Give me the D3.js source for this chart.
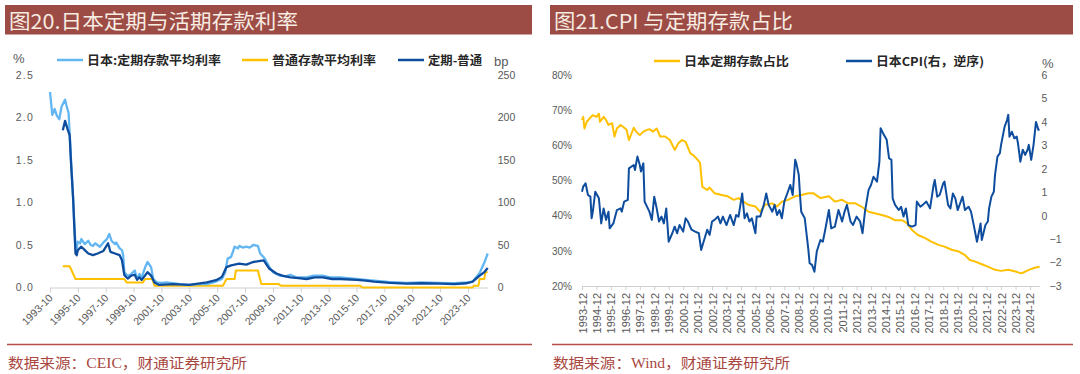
<!DOCTYPE html>
<html>
<head>
<meta charset="utf-8">
<script src="https://cdn.jsdelivr.net/npm/d3@7"></script>
<style>
  html, body { margin: 0; padding: 0; background: #fff; }
  svg { display: block; }
</style>
</head>
<body>
<svg id="chart" width="1080" height="374"></svg>
<script>
const parseM = d3.timeParse("%Y-%m");

// ---- 图20 data (left) ----
const leftTicks = ["1993-10","1995-10","1997-10","1999-10","2001-10","2003-10","2005-10","2007-10",
  "2009-10","2011-10","2013-10","2015-10","2017-10","2019-10","2021-10","2023-10"];
const leftYTicks = [0, 0.5, 1.0, 1.5, 2.0, 2.5];
const bpTicks = [0, 50, 100, 150, 200, 250];

// 日本:定期存款平均利率 (%)
const termRate = [
  ["1993-10",2.30],["1993-12",2.03],["1994-02",2.10],["1994-04",2.02],["1994-06",1.98],["1994-08",2.13],
  ["1994-11",2.21],["1994-12",2.15],["1995-02",2.05],["1995-04",1.54],["1995-06",1.03],["1995-07",0.75],
  ["1995-08",0.50],["1995-09",0.46],["1995-10",0.54],["1995-12",0.52],["1996-01",0.57],["1996-03",0.53],
  ["1996-04",0.51],["1996-07",0.55],["1996-09",0.50],["1996-11",0.49],["1997-01",0.52],["1997-03",0.50],
  ["1997-05",0.48],["1997-08",0.53],["1997-11",0.57],["1998-01",0.63],["1998-03",0.55],["1998-06",0.51],
  ["1998-07",0.53],["1998-10",0.46],["1998-12",0.44],["1999-01",0.38],["1999-02",0.18],["1999-04",0.15],
  ["1999-06",0.14],["1999-08",0.16],["1999-11",0.20],["2000-01",0.10],["2000-03",0.16],["2000-05",0.12],
  ["2000-08",0.24],["2000-10",0.30],["2001-01",0.24],["2001-03",0.10],["2001-06",0.06],["2001-10",0.055],
  ["2002-02",0.06],["2002-08",0.05],["2003-02",0.04],["2003-10",0.03],["2004-06",0.04],["2005-01",0.04],
  ["2005-09",0.07],["2006-02",0.10],["2006-05",0.18],["2006-07",0.34],["2006-10",0.36],["2007-01",0.48],
  ["2007-04",0.46],["2007-05",0.49],["2007-08",0.47],["2007-11",0.48],["2008-02",0.47],["2008-05",0.50],
  ["2008-09",0.49],["2008-11",0.40],["2009-03",0.34],["2009-07",0.24],["2009-10",0.18],["2010-04",0.14],
  ["2010-09",0.13],["2011-01",0.15],["2011-06",0.12],["2012-03",0.12],["2012-09",0.14],["2013-05",0.14],
  ["2013-11",0.12],["2014-08",0.12],["2015-03",0.11],["2015-10",0.10],["2016-06",0.09],["2017-01",0.08],
  ["2018-01",0.065],["2019-05",0.055],["2020-06",0.06],["2021-10",0.055],["2022-10",0.05],["2023-09",0.06],
  ["2024-02",0.07],["2024-08",0.17],["2024-12",0.29],["2025-03",0.40]
];

// 普通存款平均利率 (%)
const ordinaryRate = [
  ["1994-09",0.25],["1995-03",0.25],["1995-08",0.10],["1999-02",0.10],["1999-04",0.06],["2000-06",0.06],
  ["2000-08",0.10],["2001-02",0.10],["2001-04",0.02],["2006-03",0.02],["2006-06",0.10],["2007-01",0.10],
  ["2007-02",0.20],["2008-09",0.20],["2008-12",0.04],["2010-03",0.04],["2010-05",0.02],["2016-01",0.02],
  ["2016-03",0.001],["2024-02",0.001],["2024-03",0.02],["2024-07",0.02],["2024-08",0.10],["2024-12",0.10],
  ["2025-01",0.18],["2025-03",0.18]
];

// 定期-普通 (bp, right axis)
const spreadBp = [
  ["1994-09",185],["1994-11",196],["1995-01",187],["1995-03",179],["1995-04",150],["1995-06",103],
  ["1995-07",70],["1995-08",40],["1995-09",38],["1995-10",44],["1996-01",48],["1996-04",44],["1996-07",40],
  ["1996-11",38],["1997-03",40],["1997-08",43],["1997-12",52],["1998-02",42],["1998-06",40],["1998-10",38],
  ["1998-12",32],["1999-02",14.5],["1999-05",10.6],["1999-08",14],["1999-11",15],["2000-01",9],["2000-03",12],
  ["2000-05",9],["2000-10",18],["2001-01",14],["2001-04",6],["2001-08",3],["2002-08",4],["2003-10",3],
  ["2005-01",6],["2005-09",8.6],["2006-02",12.5],["2006-06",24],["2006-10",26],["2007-05",28],["2007-11",27],
  ["2008-05",30],["2009-02",32],["2009-07",22],["2010-01",16.5],["2010-06",14],["2011-01",12],["2011-08",11],
  ["2012-03",10],["2012-10",12],["2013-05",12],["2014-01",10],["2014-08",10],["2015-10",9],["2016-06",8],
  ["2017-01",7],["2018-03",5.5],["2019-05",4.5],["2020-06",5],["2021-10",4.5],["2022-10",4],["2023-09",5],
  ["2024-02",7],["2024-08",14],["2024-12",18],["2025-03",23]
];

// ---- 图21 data (right) ----
const rightTicks = ["1993-12","1994-12","1995-12","1996-12","1997-12","1998-12","1999-12","2000-12",
  "2001-12","2002-12","2003-12","2004-12","2005-12","2006-12","2007-12","2008-12","2009-12","2010-12",
  "2011-12","2012-12","2013-12","2014-12","2015-12","2016-12","2017-12","2018-12","2019-12","2020-12",
  "2021-12","2022-12","2023-12","2024-12"];
const shareTicks = [20, 30, 40, 50, 60, 70, 80];
const cpiTicks = [-3, -2, -1, 0, 1, 2, 3, 4, 5, 6];

// 日本定期存款占比 (%)
const depositShare = [
  ["1993-12",67.2],["1994-01",68.1],["1994-02",64.8],["1994-04",66.7],["1994-07",67.9],["1994-09",68.6],
  ["1994-12",68.1],["1995-02",69.0],["1995-03",66.7],["1995-06",68.1],["1995-08",67.2],["1995-10",65.8],
  ["1996-01",66.3],["1996-03",62.5],["1996-05",64.8],["1996-08",65.8],["1996-10",65.3],["1997-01",64.4],
  ["1997-03",61.5],["1997-07",65.0],["1997-09",63.9],["1997-12",62.9],["1998-03",63.9],["1998-06",64.4],
  ["1998-08",64.6],["1998-11",63.9],["1999-02",64.8],["1999-05",62.5],["1999-09",62.5],["2000-01",61.5],
  ["2000-05",58.7],["2000-08",60.6],["2000-11",61.5],["2001-02",61.0],["2001-06",57.7],["2001-08",57.3],
  ["2001-11",56.3],["2002-02",55.0],["2002-03",51.6],["2002-04",48.2],["2002-08",47.3],["2002-10",48.0],
  ["2003-02",46.4],["2003-08",45.9],["2004-01",45.5],["2004-06",44.5],["2004-10",45.0],["2005-02",44.0],
  ["2005-06",43.1],["2005-12",42.6],["2006-04",41.1],["2006-08",43.1],["2007-02",43.5],["2007-06",42.6],
  ["2007-10",44.0],["2008-03",44.5],["2008-09",45.5],["2009-02",45.9],["2009-08",46.4],["2009-12",46.4],
  ["2010-06",45.0],["2011-01",45.5],["2011-06",44.0],["2011-12",44.5],["2012-05",43.5],["2012-11",43.5],
  ["2013-04",42.6],["2013-10",41.1],["2014-03",40.7],["2014-09",40.2],["2015-02",39.7],["2015-08",38.7],
  ["2016-02",38.7],["2016-06",37.8],["2016-10",35.9],["2017-03",34.5],["2017-09",33.6],["2018-02",32.6],
  ["2018-08",31.7],["2019-01",31.2],["2019-07",30.3],["2020-01",29.8],["2020-06",28.8],["2020-10",27.4],
  ["2021-02",27.0],["2021-08",26.2],["2022-01",25.5],["2022-07",24.6],["2022-12",24.3],["2023-06",24.6],
  ["2023-12",24.1],["2024-05",23.6],["2024-11",24.6],["2025-04",25.2],["2025-08",25.5]
];

// 日本CPI (%, right axis)
const cpiYoY = [
  ["1993-12",1.02],["1994-01",1.24],["1994-03",1.38],["1994-05",0.88],["1994-07",0.81],["1994-08",-0.11],
  ["1994-09",0.17],["1994-11",1.02],["1995-02",0.74],["1995-04",-0.33],["1995-06",0.31],["1995-08",-0.18],
  ["1995-10",0.17],["1995-11",-0.54],["1996-02",-0.33],["1996-05",0.24],["1996-08",0.31],["1996-09",0.17],
  ["1996-11",0.60],["1997-02",0.67],["1997-03",2.02],["1997-07",2.16],["1997-08",1.95],["1997-10",2.52],
  ["1997-12",2.16],["1998-01",1.88],["1998-03",2.23],["1998-04",0.60],["1998-08",0.17],["1998-10",-0.18],
  ["1998-12",0.81],["1999-02",0.31],["1999-04",-0.25],["1999-06",-0.04],["1999-08",-0.33],["1999-10",0.31],
  ["1999-12",-1.11],["2000-03",-0.75],["2000-05",-0.47],["2000-07",-0.75],["2000-09",-0.40],["2000-12",-0.68],
  ["2001-02",-0.11],["2001-04",-0.25],["2001-07",-0.60],["2001-10",-0.68],["2002-01",-0.75],["2002-03",-1.46],
  ["2002-05",-1.11],["2002-08",-0.60],["2002-10",-0.82],["2002-12",-0.25],["2003-02",-0.18],["2003-05",-0.04],
  ["2003-07",-0.33],["2003-09",-0.04],["2003-12",-0.40],["2004-03",0.03],["2004-06",-0.40],["2004-08",0.03],
  ["2004-10",-0.04],["2005-01",0.95],["2005-03",-0.11],["2005-05",0.10],["2005-07",-0.25],["2005-09",-0.11],
  ["2005-12",-0.75],["2006-01",-0.04],["2006-04",-0.04],["2006-07",0.46],["2006-09",0.95],["2006-11",0.46],
  ["2007-02",0.17],["2007-04",0.46],["2007-06",0.03],["2007-08",0.24],["2007-10",-0.11],["2007-12",0.60],
  ["2008-03",1.02],["2008-05",1.31],["2008-07",0.88],["2008-09",2.38],["2008-10",2.23],["2008-12",1.74],
  ["2009-01",0.88],["2009-02",0.17],["2009-05",-0.11],["2009-08",-1.46],["2009-09",-2.03],["2009-11",-2.10],
  ["2010-01",-2.39],["2010-03",-1.53],["2010-06",-1.04],["2010-08",-1.11],["2010-10",-0.60],["2011-01",0.24],
  ["2011-03",-0.54],["2011-06",-0.47],["2011-09",0.24],["2011-12",-0.25],["2012-02",0.17],["2012-04",0.46],
  ["2012-07",-0.25],["2012-09",-0.40],["2012-12",-0.04],["2013-03",-0.25],["2013-05",-0.75],["2013-07",0.17],
  ["2013-10",1.10],["2013-12",1.31],["2014-02",1.66],["2014-05",1.45],["2014-07",2.30],["2014-08",3.73],
  ["2014-10",3.52],["2015-01",3.24],["2015-03",2.45],["2015-05",2.38],["2015-06",0.74],["2015-08",0.46],
  ["2015-11",0.24],["2016-01",0.38],["2016-03",-0.04],["2016-05",0.31],["2016-07",-0.40],["2016-10",-0.47],
  ["2017-01",-0.40],["2017-02",0.60],["2017-05",0.38],["2017-07",0.46],["2017-10",0.60],["2018-01",0.31],
  ["2018-04",1.31],["2018-05",1.52],["2018-07",0.81],["2018-09",0.88],["2018-12",1.38],["2019-01",1.45],
  ["2019-04",0.46],["2019-06",0.31],["2019-08",0.95],["2019-10",0.74],["2019-12",0.24],["2020-02",0.53],
  ["2020-04",0.81],["2020-06",0.24],["2020-09",0.38],["2020-11",0.17],["2021-01",-0.33],["2021-04",-1.11],
  ["2021-06",-0.60],["2021-07",-0.33],["2021-08",-1.04],["2021-11",-0.40],["2022-01",-0.25],["2022-02",0.31],
  ["2022-04",0.81],["2022-06",1.02],["2022-07",1.74],["2022-09",2.52],["2022-11",2.67],["2022-12",3.02],
  ["2023-03",3.80],["2023-05",4.08],["2023-06",4.30],["2023-07",3.37],["2023-09",3.58],["2023-11",3.30],
  ["2024-01",3.37],["2024-02",3.09],["2024-04",2.30],["2024-06",2.81],["2024-08",2.59],["2024-10",2.81],
  ["2024-11",3.02],["2025-01",2.38],["2025-03",3.02],["2025-05",4.00],["2025-07",3.66],["2025-08",3.66]
];

// ---- styles ----
const fontCJK = '"Noto Sans CJK SC", sans-serif';
const fontNum = '"Liberation Sans", Arial, sans-serif';
const fontSrc = '"Liberation Serif", "Noto Sans CJK SC", serif';
const tickColor = "#595959";
const axisColor = "#d0d0d0";

const svg = d3.select("#chart");
const toPts = arr => arr.map(d => ({ date: parseM(d[0]), value: d[1] }));

// title bar + source line
function drawFrame(x0, x1, title, titleLen, source, sourceLen) {
  svg.append("rect")
    .attr("x", x0).attr("y", 5)
    .attr("width", x1 - x0).attr("height", 29.5)
    .attr("fill", "#9d4b45");
  svg.append("text")
    .attr("x", x0 + 4).attr("y", 28.5)
    .attr("font-family", fontCJK).attr("font-size", 20.5)
    .attr("fill", "#f6ece2")
    .attr("textLength", titleLen).attr("lengthAdjust", "spacingAndGlyphs")
    .text(title);
  svg.append("line")
    .attr("x1", x0 + 2).attr("x2", x1)
    .attr("y1", 344.5).attr("y2", 344.5)
    .attr("stroke", "#b4504a").attr("stroke-width", 1.3);
  svg.append("text")
    .attr("x", x0 + 3).attr("y", 368)
    .attr("font-family", fontSrc).attr("font-size", 14)
    .attr("fill", "#a9473f")
    .attr("textLength", sourceLen).attr("lengthAdjust", "spacingAndGlyphs")
    .text(source);
}

function legendItem(x, y, color, label, len) {
  svg.append("line")
    .attr("x1", x).attr("x2", x + 26).attr("y1", y).attr("y2", y)
    .attr("stroke", color).attr("stroke-width", 2.5);
  svg.append("text")
    .attr("x", x + 30).attr("y", y + 4.5)
    .attr("font-family", fontCJK).attr("font-size", 12).attr("font-weight", 700)
    .attr("fill", "#262626")
    .attr("textLength", len).attr("lengthAdjust", "spacingAndGlyphs")
    .text(label);
}

function unitLabel(x, y, txt) {
  svg.append("text").attr("x", x).attr("y", y)
    .attr("font-family", fontNum).attr("font-size", 13).attr("fill", tickColor)
    .text(txt);
}

function styleAxis(g) {
  g.select(".domain").attr("stroke", axisColor);
  g.selectAll(".tick line").attr("stroke", axisColor);
  g.selectAll(".tick text")
    .attr("fill", tickColor)
    .attr("font-family", fontNum);
}

// ================= 图20 =================
drawFrame(5, 532, "图20.日本定期与活期存款利率", 289, "数据来源：CEIC，财通证券研究所", 239);

const xL = d3.scaleTime()
  .domain([parseM("1993-10"), parseM("2025-03")])
  .range([50, 487.7]);
const yL = d3.scaleLinear().domain([0, 2.5]).range([287.5, 75]);
const yBp = d3.scaleLinear().domain([0, 250]).range([287.5, 75]);

const gxL = svg.append("g")
  .attr("transform", "translate(0,287.5)")
  .call(d3.axisBottom(xL)
    .tickValues(leftTicks.map(parseM))
    .tickSize(5).tickSizeOuter(0)
    .tickFormat(d3.timeFormat("%Y-%m")));
styleAxis(gxL);
gxL.selectAll(".tick text")
  .attr("x", 0).attr("y", 0).attr("dy", 0)
  .attr("font-size", 10.5)
  .attr("transform", "translate(3,11) rotate(-45)")
  .style("text-anchor", "end");

const gyL = svg.append("g")
  .attr("transform", "translate(50,0)")
  .call(d3.axisLeft(yL).tickValues(leftYTicks).tickSize(0).tickPadding(16)
    .tickFormat(d3.format(".1f")));
gyL.select(".domain").remove();
styleAxis(gyL);
gyL.selectAll(".tick text").attr("font-size", 10.5).attr("letter-spacing", 1.2);

const gyBp = svg.append("g")
  .attr("transform", "translate(487.7,0)")
  .call(d3.axisRight(yBp).tickValues(bpTicks).tickSize(0).tickPadding(10));
gyBp.select(".domain").remove();
styleAxis(gyBp);
gyBp.selectAll(".tick text").attr("font-size", 10.5);

const lineL = d3.line().x(d => xL(d.date)).y(d => yL(d.value));
const lineBp = d3.line().x(d => xL(d.date)).y(d => yBp(d.value));

svg.append("path").datum(toPts(ordinaryRate))
  .attr("d", lineL).attr("fill", "none")
  .attr("stroke", "#ffc000").attr("stroke-width", 2).attr("stroke-linejoin", "round");
svg.append("path").datum(toPts(termRate))
  .attr("d", lineL).attr("fill", "none")
  .attr("stroke", "#62b6f2").attr("stroke-width", 2.3).attr("stroke-linejoin", "round");
svg.append("path").datum(toPts(spreadBp))
  .attr("d", lineBp).attr("fill", "none")
  .attr("stroke", "#0e4d9e").attr("stroke-width", 2.3).attr("stroke-linejoin", "round");

unitLabel(13, 63, "%");
unitLabel(494, 66, "bp");
legendItem(57, 60, "#62b6f2", "日本:定期存款平均利率", 134);
legendItem(242, 60, "#ffc000", "普通存款平均利率", 104);
legendItem(398, 60, "#0e4d9e", "定期-普通", 54);

// ================= 图21 =================
drawFrame(550, 1073, "图21.CPI 与定期存款占比", 239, "数据来源：Wind，财通证券研究所", 237);

const xR = d3.scaleTime()
  .domain([parseM("1993-12"), parseM("2025-08")])
  .range([582, 1039.6]);
const yS = d3.scaleLinear().domain([20, 80]).range([286, 75]);
const yC = d3.scaleLinear().domain([-3, 6]).range([286, 75]);

const gxR = svg.append("g")
  .attr("transform", "translate(0,286)")
  .call(d3.axisBottom(xR)
    .tickValues(rightTicks.map(parseM))
    .tickSize(4).tickSizeOuter(0)
    .tickFormat(d3.timeFormat("%Y-%m")));
styleAxis(gxR);
gxR.selectAll(".tick text")
  .attr("x", 0).attr("y", 0).attr("dy", 0)
  .attr("font-size", 11)
  .attr("transform", "translate(4,7) rotate(-90)")
  .style("text-anchor", "end");

const gyS = svg.append("g")
  .attr("transform", "translate(582,0)")
  .call(d3.axisLeft(yS).tickValues(shareTicks).tickSize(0).tickPadding(10)
    .tickFormat(d => d + "%"));
gyS.select(".domain").remove();
styleAxis(gyS);
gyS.selectAll(".tick text").attr("font-size", 10);

const gyC = svg.append("g")
  .attr("transform", "translate(1039.6,0)")
  .call(d3.axisRight(yC).tickValues(cpiTicks).tickSize(0).tickPadding(2));
gyC.select(".domain").remove();
styleAxis(gyC);
gyC.selectAll(".tick text")
  .attr("font-size", 10.5)
  .attr("dx", d => d < 0 ? 8 : 0);

const lineS = d3.line().x(d => xR(d.date)).y(d => yS(d.value));
const lineC = d3.line().x(d => xR(d.date)).y(d => yC(d.value));

svg.append("path").datum(toPts(depositShare))
  .attr("d", lineS).attr("fill", "none")
  .attr("stroke", "#ffc000").attr("stroke-width", 2).attr("stroke-linejoin", "round");
svg.append("path").datum(toPts(cpiYoY))
  .attr("d", lineC).attr("fill", "none")
  .attr("stroke", "#0e4d9e").attr("stroke-width", 2).attr("stroke-linejoin", "round");

unitLabel(1042, 68, "%");
legendItem(654, 61, "#ffc000", "日本定期存款占比", 105);
legendItem(846, 61, "#0e4d9e", "日本CPI(右，逆序)", 108);
</script>
</body>
</html>
